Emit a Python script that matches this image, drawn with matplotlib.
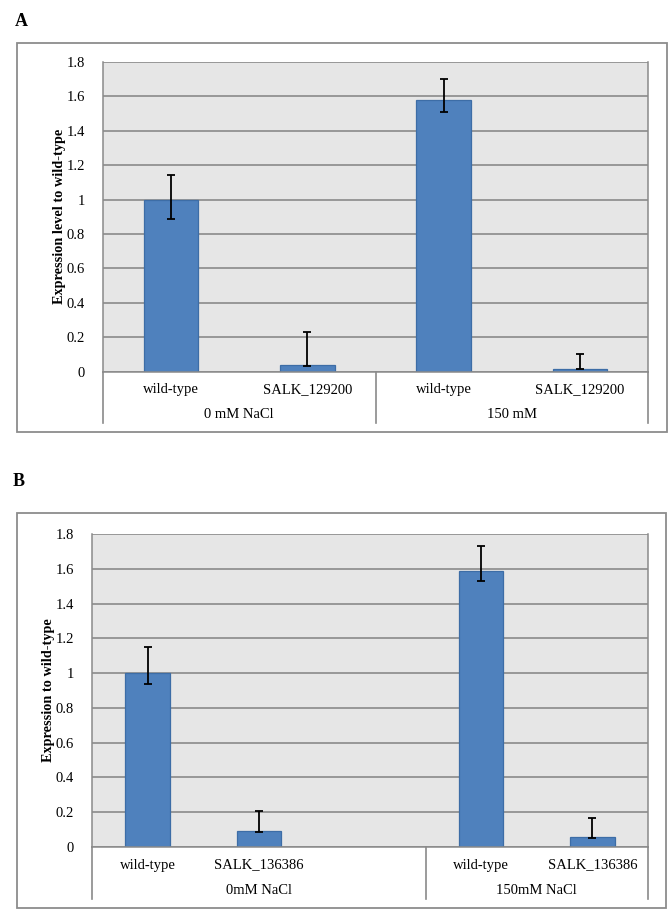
import matplotlib
matplotlib.use("Agg")
import matplotlib.pyplot as plt
import numpy as np
from matplotlib.patches import Rectangle

plt.rcParams['font.family'] = ['Liberation Serif', 'DejaVu Serif']

# ---------------- data ----------------
cats_A = ["wild-type", "SALK_129200", "wild-type", "SALK_129200"]
groups_A = ["0 mM NaCl", "150 mM"]
group_sizes_A = [2, 2]
vals_A = [1.0, 0.037, 1.58, 0.016]
err_lo_A = [0.11, 0.005, 0.068, 0.0]
err_hi_A = [0.145, 0.194, 0.124, 0.089]

cats_B = ["wild-type", "SALK_136386", "", "wild-type", "SALK_136386"]
groups_B = ["0mM NaCl", "150mM NaCl"]
group_sizes_B = [3, 2]
vals_B = [1.0, 0.092, np.nan, 1.585, 0.058]
err_lo_B = [0.065, 0.006, np.nan, 0.055, 0.008]
err_hi_B = [0.148, 0.117, np.nan, 0.144, 0.107]

yticks = [0, 0.2, 0.4, 0.6, 0.8, 1, 1.2, 1.4, 1.6, 1.8]
ytick_labels = ["0", "0.2", "0.4", "0.6", "0.8", "1", "1.2", "1.4", "1.6", "1.8"]

# ---------------- figure ----------------
W, H = 669, 909
fig = plt.figure(figsize=(W / 100, H / 100), dpi=100)

def fx(x):
    return x / W

def fy(y):
    return 1 - y / H

GRID = '#8a8a8a'
BAR = '#4f81bd'
BAR_EDGE = '#3d6da6'

def panel(letter, letter_xy, box, plot, cats, vals, elo, ehi, groups, gsizes,
          ylabel, ylabel_x):
    l, t, r, b = box
    fig.add_artist(Rectangle((fx(l), fy(b)), fx(r) - fx(l), fy(t) - fy(b),
                             transform=fig.transFigure, fill=False,
                             ec='#8c8c8c', lw=1.3))
    fig.text(fx(letter_xy[0]), fy(letter_xy[1]), letter, fontsize=13,
             fontweight='bold', ha='left', va='center')
    pl, pt, pr, pb = plot
    ax = fig.add_axes([fx(pl), fy(pb), fx(pr) - fx(pl), fy(pt) - fy(pb)])
    ax.set_facecolor('#e6e6e6')
    n = len(cats)
    x = np.arange(n)
    vals = np.array(vals, dtype=float)
    elo = np.array(elo, dtype=float)
    ehi = np.array(ehi, dtype=float)
    ok = ~np.isnan(vals)
    ax.set_axisbelow(True)
    ax.bar(x[ok], vals[ok], width=0.4, color=BAR, edgecolor=BAR_EDGE, lw=0.9,
           zorder=2)
    ax.errorbar(x[ok], vals[ok], yerr=[elo[ok], ehi[ok]], fmt='none',
                ecolor='black', elinewidth=1.3, capsize=3.2, capthick=1.3,
                zorder=3)
    ax.set_xlim(-0.5, n - 0.5)
    ax.set_ylim(0, 1.8)
    ax.set_yticks(yticks)
    ax.set_yticklabels(ytick_labels)
    ax.yaxis.grid(True, color=GRID, lw=1.2)
    ax.tick_params(axis='y', length=0, pad=13, labelsize=10.5)
    ax.set_xticks([])
    for s in ax.spines.values():
        s.set_color(GRID)
        s.set_linewidth(1.1)
    ax.spines['top'].set_visible(False)
    fig.text(fx(ylabel_x), (fy(pt) + fy(pb)) / 2, ylabel, rotation=90,
             ha='center', va='center', fontsize=10.3, fontweight='bold')
    # category table
    drop = 51.5
    bounds = [-0.5]
    for g in gsizes:
        bounds.append(bounds[-1] + g)
    for bx in bounds:
        ax.plot([bx, bx], [0, -drop / (pb - pt)], color=GRID, lw=1.2,
                transform=ax.get_xaxis_transform(), clip_on=False)
    for xi, c in zip(x, cats):
        if c:
            ax.annotate(c, xy=(xi, 0), xycoords=('data', 'axes fraction'),
                        xytext=(0, -18), textcoords='offset pixels',
                        ha='center', va='center', fontsize=10.5)
    for i, g in enumerate(groups):
        cx = (bounds[i] + bounds[i + 1]) / 2
        ax.annotate(g, xy=(cx, 0), xycoords=('data', 'axes fraction'),
                    xytext=(0, -43), textcoords='offset pixels',
                    ha='center', va='center', fontsize=10.5)
    return ax

axA = panel("A", (15, 21), (17, 43, 667, 432), (103, 62, 648, 371.7),
            cats_A, vals_A, err_lo_A, err_hi_A, groups_A, group_sizes_A,
            "Expression level to wild-type", 60)
axB = panel("B", (13, 481), (17, 513, 666, 907.5), (92, 534, 648, 847),
            cats_B, vals_B, err_lo_B, err_hi_B, groups_B, group_sizes_B,
            "Expression to wild-type", 49)

fig.savefig("out.png", dpi=100)
